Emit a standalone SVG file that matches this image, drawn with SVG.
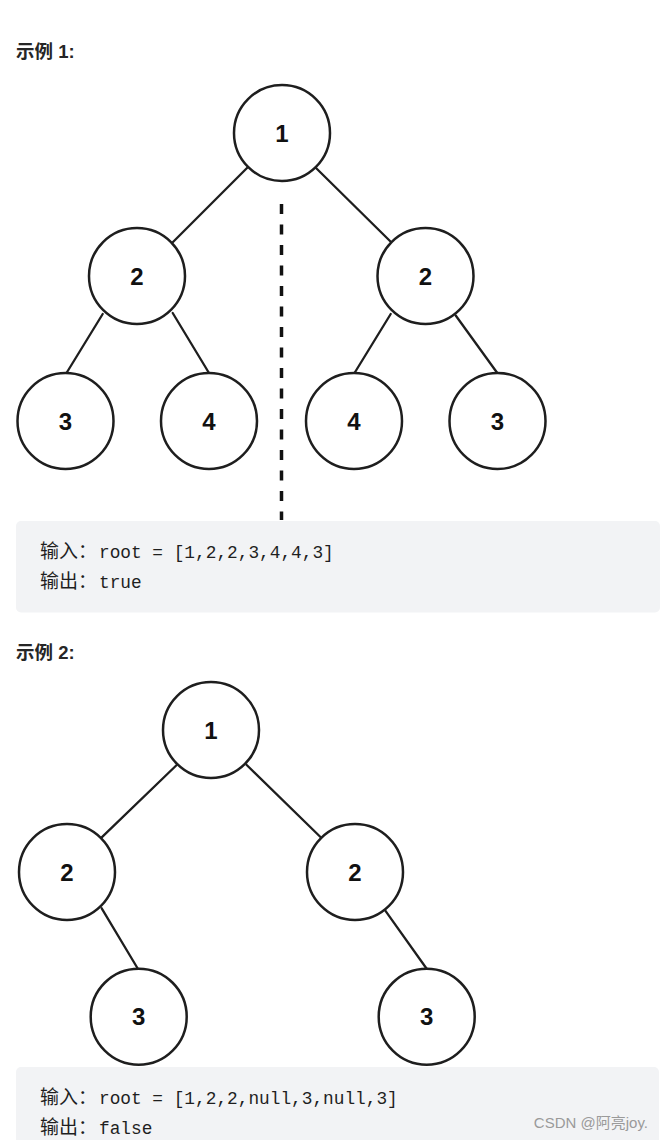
<svg xmlns="http://www.w3.org/2000/svg" width="663" height="1140" viewBox="0 0 663 1140">
<style>
.bg{fill:#ffffff}
.edge{stroke:#1e1e1e;stroke-width:2.3;fill:none;stroke-linecap:round}
.dash{stroke:#111;stroke-width:3.5;stroke-dasharray:10 10.5;fill:none}
.node circle{fill:#ffffff;stroke:#1e1e1e;stroke-width:2.5}
.node text{font-family:"Liberation Sans",Arial,sans-serif;font-weight:bold;font-size:24px;fill:#111;text-anchor:middle}
.head{font-family:"Liberation Sans","Noto Sans CJK SC",sans-serif;font-weight:bold;font-size:18.5px;fill:#262626}
.box{fill:#f2f3f5}
.code{font-family:"Liberation Mono","Noto Sans CJK SC",monospace;font-size:17.8px;fill:#1f1f1f}
.cjk{font-family:"Noto Sans CJK SC",sans-serif;font-size:19px}
.wm{font-family:"Liberation Sans","Noto Sans CJK SC",sans-serif;font-size:15px;fill:#9a9a9a;text-anchor:end}
</style>
<rect class="bg" x="0" y="0" width="663" height="1140"/>

<text class="head" x="16" y="58">示例 1:</text>
<text class="head" x="16" y="659">示例 2:</text>

<g id="connectors">
  <line class="edge" x1="247" y1="168" x2="172.5" y2="242.5"/>
  <line class="edge" x1="316" y1="168" x2="391" y2="242"/>
  <line class="edge" x1="102.7" y1="314" x2="66.5" y2="373"/>
  <line class="edge" x1="172.7" y1="313" x2="209" y2="373"/>
  <line class="edge" x1="390.7" y1="314" x2="354.5" y2="373"/>
  <line class="edge" x1="455.7" y1="315.5" x2="497.3" y2="373"/>
  <line class="dash" x1="281.5" y1="204" x2="281.5" y2="520"/>
  <line class="edge" x1="176.7" y1="765" x2="101.7" y2="837.3"/>
  <line class="edge" x1="246.7" y1="765" x2="320.7" y2="837.3"/>
  <line class="edge" x1="101.7" y1="908.3" x2="137.7" y2="968.5"/>
  <line class="edge" x1="385.3" y1="910.7" x2="426.5" y2="968.5"/>
</g>

<g id="e1-n1" class="node"><circle cx="282" cy="133" r="48"/><text x="282" y="141.5">1</text></g>
<g id="e1-n2l" class="node"><circle cx="137" cy="276" r="48"/><text x="137" y="284.5">2</text></g>
<g id="e1-n2r" class="node"><circle cx="425.5" cy="276" r="48"/><text x="425.5" y="284.5">2</text></g>
<g id="e1-n3l" class="node"><circle cx="65.5" cy="421" r="48"/><text x="65.5" y="429.5">3</text></g>
<g id="e1-n4l" class="node"><circle cx="209" cy="421" r="48"/><text x="209" y="429.5">4</text></g>
<g id="e1-n4r" class="node"><circle cx="354" cy="421" r="48"/><text x="354" y="429.5">4</text></g>
<g id="e1-n3r" class="node"><circle cx="497.5" cy="421" r="48"/><text x="497.5" y="429.5">3</text></g>

<g id="e2-n1" class="node"><circle cx="211" cy="730" r="48"/><text x="211" y="738.5">1</text></g>
<g id="e2-n2l" class="node"><circle cx="67" cy="872" r="48"/><text x="67" y="880.5">2</text></g>
<g id="e2-n2r" class="node"><circle cx="355" cy="872" r="48"/><text x="355" y="880.5">2</text></g>
<g id="e2-n3l" class="node"><circle cx="138.7" cy="1016.7" r="48"/><text x="138.7" y="1025">3</text></g>
<g id="e2-n3r" class="node"><circle cx="426.7" cy="1016.7" r="48"/><text x="426.7" y="1025">3</text></g>

<g id="code1">
  <rect class="box" x="16" y="521" width="644" height="91.5" rx="5"/>
  <text class="code" x="40" y="558"><tspan class="cjk">输入：</tspan><tspan x="99">root = [1,2,2,3,4,4,3]</tspan></text>
  <text class="code" x="40" y="588"><tspan class="cjk">输出：</tspan><tspan x="99">true</tspan></text>
</g>

<g id="code2">
  <rect class="box" x="16" y="1067" width="643" height="90" rx="5"/>
  <text class="code" x="40" y="1104"><tspan class="cjk">输入：</tspan><tspan x="99">root = [1,2,2,null,3,null,3]</tspan></text>
  <text class="code" x="40" y="1134"><tspan class="cjk">输出：</tspan><tspan x="99">false</tspan></text>
</g>

<text class="wm" x="648" y="1128">CSDN @阿亮joy.</text>
</svg>
